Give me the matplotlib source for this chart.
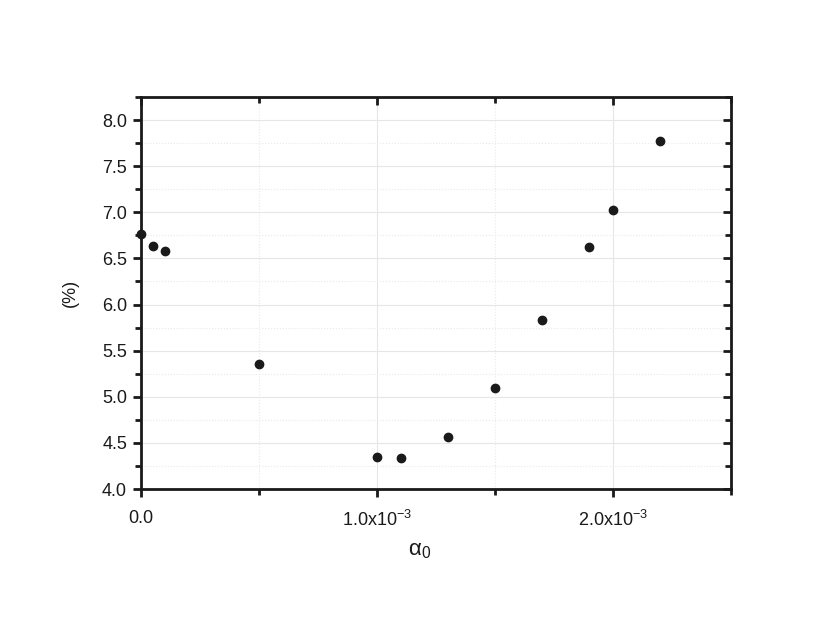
import matplotlib
matplotlib.use("Agg")
import matplotlib.pyplot as plt
from matplotlib.ticker import MultipleLocator, FixedLocator, FixedFormatter, NullFormatter

plt.rcParams['font.family'] = ['Liberation Sans', 'DejaVu Sans']
plt.rcParams['mathtext.fontset'] = 'custom'
plt.rcParams['mathtext.rm'] = 'Liberation Sans'
plt.rcParams['mathtext.it'] = 'Liberation Sans'

alpha0 = [0.0, 0.05e-3, 0.1e-3, 0.5e-3, 1.0e-3, 1.1e-3, 1.3e-3, 1.5e-3, 1.7e-3, 1.9e-3, 2.0e-3, 2.2e-3]
percent = [6.76, 6.63, 6.58, 5.35, 4.35, 4.34, 4.56, 5.10, 5.83, 6.62, 7.02, 7.77]

x_tick_vals = [0.0, 1.0e-3, 2.0e-3]
x_tick_labels = ['0.0', '1.0x10$^{\\mathrm{-3}}$', '2.0x10$^{\\mathrm{-3}}$']
y_tick_vals = [4.0, 4.5, 5.0, 5.5, 6.0, 6.5, 7.0, 7.5, 8.0]

dark = '#1a1a1a'
fig = plt.figure(figsize=(8.3, 6.22), dpi=100)
rect = [141/830, 1 - 489/622, (731-141)/830, (489-97)/622]
ax = fig.add_axes(rect)

ax.plot(alpha0, percent, 'o', color=dark, markersize=6, clip_on=False, zorder=5)

xlim = (0, 2.5e-3)
ylim = (4.0, 8.25)
ax.set_xlim(*xlim)
ax.set_ylim(*ylim)

ax.xaxis.set_major_locator(FixedLocator(x_tick_vals))
ax.xaxis.set_major_formatter(FixedFormatter(x_tick_labels))
ax.xaxis.set_minor_locator(MultipleLocator(0.5e-3))
ax.yaxis.set_major_locator(FixedLocator(y_tick_vals))
ax.yaxis.set_major_formatter(FixedFormatter([f"{v:.1f}" for v in y_tick_vals]))
ax.yaxis.set_minor_locator(MultipleLocator(0.25))

ax.grid(True, which='major', color='#e6e6e6', linewidth=0.8, linestyle='-')
ax.grid(True, which='minor', color='#e9e9e9', linewidth=0.8, linestyle=':')
ax.set_axisbelow(True)

for s in ax.spines.values():
    s.set_linewidth(2.0)
    s.set_color(dark)

ax.tick_params(axis='x', which='major', direction='out', length=6, width=2,
               color=dark, labelsize=13, labelcolor=dark, pad=9)
ax.tick_params(axis='y', which='major', direction='out', length=6, width=2,
               color=dark, labelsize=13, labelcolor=dark, pad=4)
ax.tick_params(axis='both', which='minor', direction='out', length=4, width=2, color=dark)

# mirrored inward ticks on top and right using an overlay axes
ov = fig.add_axes(rect, frameon=False)
ov.set_xlim(*xlim)
ov.set_ylim(*ylim)
ov.patch.set_visible(False)
ov.xaxis.set_major_locator(FixedLocator(x_tick_vals))
ov.xaxis.set_minor_locator(MultipleLocator(0.5e-3))
ov.yaxis.set_major_locator(FixedLocator(y_tick_vals))
ov.yaxis.set_minor_locator(MultipleLocator(0.25))
ov.xaxis.set_major_formatter(NullFormatter())
ov.yaxis.set_major_formatter(NullFormatter())
ov.tick_params(which='both', direction='in', top=True, bottom=False, left=False, right=True,
               labelleft=False, labelbottom=False, width=2, color=dark)
ov.tick_params(which='major', length=6)
ov.tick_params(which='minor', length=4)

ax.set_xlabel('α$_{0}$', fontsize=16, color=dark)
ax.xaxis.set_label_coords((420-141)/(731-141), -0.13)
ax.set_ylabel('(%)', fontsize=13, color=dark)
ax.yaxis.set_label_coords(-(141-79)/(731-141), 0.5)

fig.savefig('out.png', dpi=100)
